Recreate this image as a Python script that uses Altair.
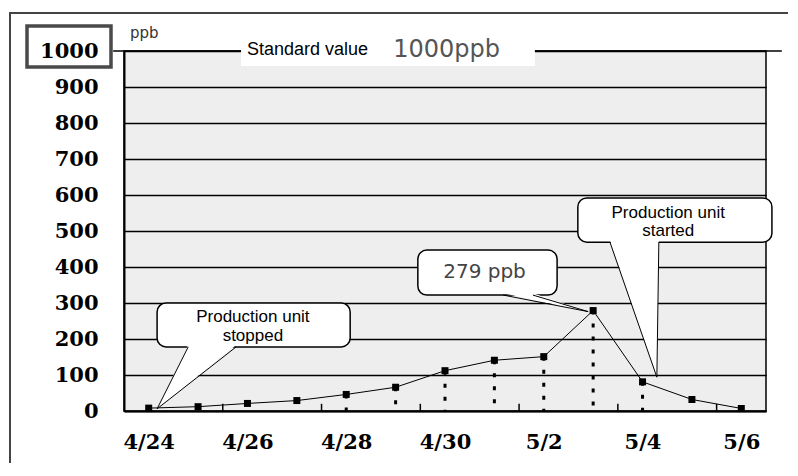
import json
import altair as alt
import pandas as pd

# ---- data ----
dates = ["4/24", "4/25", "4/26", "4/27", "4/28", "4/29", "4/30",
         "5/1", "5/2", "5/3", "5/4", "5/5", "5/6"]
values = [8, 12, 21, 29, 46, 66, 112, 141, 151, 279, 81, 32, 7]
label_dates = ["4/24", "4/26", "4/28", "4/30", "5/2", "5/4", "5/6"]
drop_dates = ["4/28", "4/29", "4/30", "5/1", "5/2", "5/3", "5/4"]
minor_tick_days = [1.5, 3.5, 5.5, 7.5, 9.5, 11.5]
y_ticks = [0, 100, 200, 300, 400, 500, 600, 700, 800, 900, 1000]
standard_value = 1000

# callout bubbles (in day / ppb units)
bubble_x1 = [0.17, 8.69, 5.45]
bubble_x2 = [4.08, 12.62, 8.27]
bubble_y1 = [178, 469, 322]
bubble_y2 = [300, 592, 447]

# bubble texts
btext = ["Production unit", "stopped", "Production unit", "started"]
btext_x = [2.11, 2.11, 10.52, 10.52]
btext_y = [246, 195, 537, 487]

# pointer triangles: base A, base B, apex C
ptr_ax = [0.80, 9.34, 7.18]
ptr_bx = [1.77, 10.33, 7.78]
ptr_base = [178, 469, 322]
ptr_cx = [0.17, 10.29, 8.90]
ptr_cy = [6, 94, 276]

# ---- scales / axes ----
days = list(range(len(dates)))
xs = alt.Scale(domain=[-0.5, len(dates) - 0.5], nice=False, zero=False)
ys = alt.Scale(domain=[0, 1000], nice=False)

x_axis = alt.Axis(
    values=[dates.index(d) for d in label_dates],
    labelExpr=json.dumps(dates) + "[datum.value]",
    title=None, grid=False, ticks=False, labelPadding=20,
    labelFont="DejaVu Serif", labelFontWeight="bold", labelFontSize=21,
    labelColor="black", domainColor="black", domainWidth=2,
)
y_axis = alt.Axis(
    values=y_ticks, format="d", title=None, grid=True, gridColor="black", gridWidth=1.5,
    ticks=False, labelPadding=26,
    labelFont="DejaVu Serif", labelFontWeight="bold", labelFontSize=21,
    labelColor="black", domainColor="black", domainWidth=2,
)


def X(f):
    return alt.X(f, type="quantitative", scale=xs, axis=x_axis)


def Y(f):
    return alt.Y(f, type="quantitative", scale=ys, axis=y_axis, stack=None)


main = pd.DataFrame({"day": days, "date": dates, "value": values})
drops = main[main["date"].isin(drop_dates)].copy()
drops["zero"] = 0

line = alt.Chart(main).mark_line(color="black", strokeWidth=1).encode(x=X("day"), y=Y("value"))
pts = alt.Chart(main).mark_point(shape="square", filled=True, color="black", size=49, opacity=1).encode(
    x=X("day"), y=Y("value"))
droplines = alt.Chart(drops).mark_rule(color="black", strokeWidth=3, strokeDash=[4, 9]).encode(
    x=X("day"), y=Y("value"), y2="zero:Q")

ticks_df = pd.DataFrame({"day": minor_tick_days, "y0": 0, "y1": 20})
minor = alt.Chart(ticks_df).mark_rule(color="black", strokeWidth=1.5).encode(
    x=X("day"), y=Y("y0"), y2="y1:Q")

std_df = pd.DataFrame({"day": [-0.72], "day2": [12.82], "value": [standard_value]})
std_rule = alt.Chart(std_df).mark_rule(color="black", strokeWidth=1.5).encode(
    x=X("day"), x2="day2:Q", y=Y("value"))

wb_df = pd.DataFrame({"day": [1.87], "day2": [7.82], "value": [958], "value2": [1036]})
white_box = alt.Chart(wb_df).mark_rect(color="white").encode(
    x=X("day"), x2="day2:Q", y=Y("value"), y2="value2:Q")

sv_df = pd.DataFrame({"day": [1.99], "value": [989], "t": ["Standard value"]})
sv_text = alt.Chart(sv_df).mark_text(font="Liberation Sans", fontSize=18, align="left",
                                     baseline="alphabetic", color="black").encode(
    x=X("day"), y=Y("value"), text="t:N")
sv2_df = pd.DataFrame({"day": [4.95], "value": [983], "t": [f"{standard_value}ppb"]})
sv2_text = alt.Chart(sv2_df).mark_text(font="DejaVu Sans", fontSize=24, align="left",
                                       baseline="alphabetic", color="#555555").encode(
    x=X("day"), y=Y("value"), text="t:N")

bub_df = pd.DataFrame({"day": bubble_x1, "day2": bubble_x2, "value": bubble_y1, "value2": bubble_y2})
bubbles = alt.Chart(bub_df).mark_rect(fill="white", stroke="black", strokeWidth=1.5, cornerRadius=9).encode(
    x=X("day"), x2="day2:Q", y=Y("value"), y2="value2:Q")

# pointer fills built as areas (one layer per callout)
ptr_fills = []
for i in range(3):
    ax, bx, b, cx, cy = ptr_ax[i], ptr_bx[i], ptr_base[i] + 5, ptr_cx[i], ptr_cy[i]
    pts3 = sorted([(ax, b), (bx, b), (cx, cy)])
    (x0, y0), (x1, y1), (x2, y2) = pts3
    ym = y0 + (y2 - y0) * (x1 - x0) / (x2 - x0)
    tri = pd.DataFrame({"day": [x0, x1, x2], "value": [y0, y1, y2], "value2": [y0, ym, y2]})
    ptr_fills.append(
        alt.Chart(tri).mark_area(color="white", opacity=1).encode(
            x=X("day"), y=Y("value"), y2="value2:Q")
    )

seg = []
for i in range(3):
    seg.append({"day": ptr_ax[i], "value": ptr_base[i], "day2": ptr_cx[i], "value2": ptr_cy[i]})
    seg.append({"day": ptr_bx[i], "value": ptr_base[i], "day2": ptr_cx[i], "value2": ptr_cy[i]})
ptr_lines = alt.Chart(pd.DataFrame(seg)).mark_rule(color="black", strokeWidth=1).encode(
    x=X("day"), y=Y("value"), x2="day2:Q", y2="value2:Q")

bt_df = pd.DataFrame({"day": btext_x, "value": btext_y, "t": btext})
bub_text = alt.Chart(bt_df).mark_text(font="Liberation Sans", fontSize=17, align="center",
                                      baseline="alphabetic", color="black").encode(
    x=X("day"), y=Y("value"), text="t:N")

peak_df = pd.DataFrame({"day": [6.80], "value": [369], "t": [f"{max(values)} ppb"]})
peak_text = alt.Chart(peak_df).mark_text(font="DejaVu Sans", fontSize=20, align="center",
                                         baseline="alphabetic", color="#444444").encode(
    x=X("day"), y=Y("value"), text="t:N")

one = pd.DataFrame({"a": [0]})
frame = alt.Chart(one).mark_rect(filled=False, stroke="#444444", strokeWidth=2).encode(
    x=alt.value(-114), x2=alt.value(700), y=alt.value(-38), y2=alt.value(520))
box1000 = alt.Chart(one).mark_rect(filled=False, stroke="#4a4a4a", strokeWidth=3.5).encode(
    x=alt.value(-97), x2=alt.value(-13), y=alt.value(-25), y2=alt.value(16))
unit = alt.Chart(pd.DataFrame({"t": ["ppb"]})).mark_text(
    font="DejaVu Sans", fontSize=15, align="left", baseline="alphabetic", color="#333333").encode(
    x=alt.value(6), y=alt.value(-13), text="t:N")

chart = alt.layer(
    line, pts, droplines, minor, std_rule, white_box, sv_text, sv2_text,
    bubbles, *ptr_fills, ptr_lines, bub_text, peak_text, frame, box1000, unit,
).properties(
    width=642, height=360,
    autosize=alt.AutoSizeParams(type="none"),
    padding={"left": 116, "top": 43, "right": 22, "bottom": 52},
    background="white",
).configure_view(fill="#eeeeee", stroke="black", strokeWidth=1.5)

chart.save("out.html", embed_options={"renderer": "svg", "actions": False})
